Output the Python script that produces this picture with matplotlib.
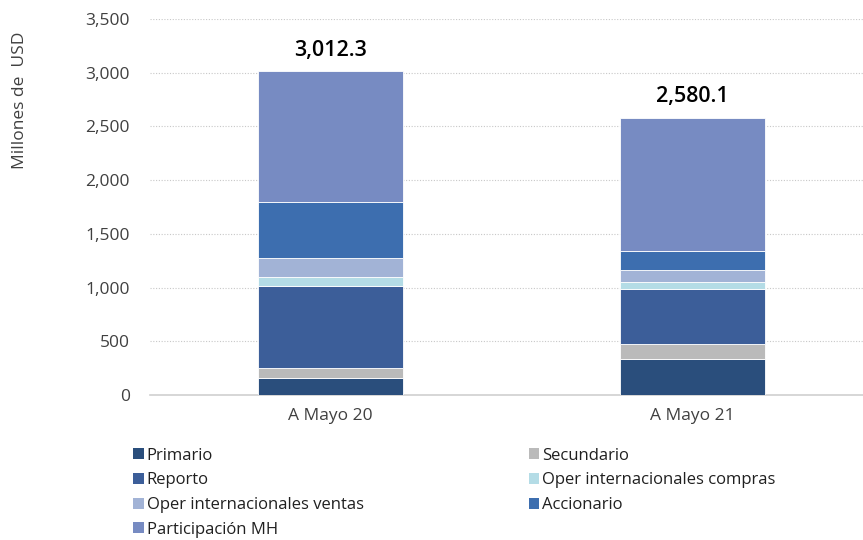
import numpy as np
import matplotlib
matplotlib.use("Agg")
import matplotlib.pyplot as plt
from matplotlib.patches import Patch

plt.rcParams['font.family'] = ['Open Sans', 'DejaVu Sans']

# Datos (millones de USD)
periodos = ['A Mayo 20', 'A Mayo 21']
series = ['Primario', 'Secundario', 'Reporto', 'Oper internacionales compras',
          'Oper internacionales ventas', 'Accionario', 'Participación MH']
primario = [158.0, 338.0]
secundario = [93.0, 140.0]
reporto = [763.0, 506.0]
oper_compras = [83.0, 69.0]
oper_ventas = [174.0, 106.0]
accionario = [530.0, 185.0]
participacion = [1211.3, 1236.1]
totales = [3012.3, 2580.1]

colores = ['#2a4e7c', '#bababa', '#3c5e99', '#b4dce6', '#a2b3d6', '#3d6eaf', '#778bc2']
valores = [primario, secundario, reporto, oper_compras, oper_ventas, accionario, participacion]

fig = plt.figure(figsize=(8.63, 5.4), dpi=100)
ax = fig.add_axes([149.5 / 863, 1 - 395 / 540, 724 / 863, 376 / 540])

x = np.arange(len(periodos))
base = np.zeros(len(periodos))
for nombre, vals, c in zip(series, valores, colores):
    ax.bar(x, vals, width=0.4, bottom=base, color=c, edgecolor='white',
           linewidth=0.6, label=nombre, zorder=3)
    base += np.array(vals)

for xi, t in zip(x, totales):
    ax.text(xi, t + 100, f'{t:,.1f}', ha='center', va='bottom', fontsize=15.5,
            fontweight='semibold', color='black')

ax.set_xlim(-0.5, 1.5)
ax.set_ylim(0, 3500)
ax.set_yticks(np.arange(0, 3501, 500))
ax.yaxis.set_major_formatter(matplotlib.ticker.FuncFormatter(lambda v, p: f'{v:,.0f}'))
ax.set_xticks(x)
ax.set_xticklabels(periodos)
ax.grid(axis='y', linestyle=(0, (1, 1.5)), color='#c8c8c8', linewidth=0.8, zorder=0)
for s in ['top', 'right', 'left']:
    ax.spines[s].set_visible(False)
ax.spines['bottom'].set_color('#d0d0d0')
ax.spines['bottom'].set_linewidth(1.2)
ax.tick_params(axis='y', length=0, labelsize=12.5, labelcolor='#404040', pad=14)
ax.tick_params(axis='x', length=0, labelsize=12.5, labelcolor='#404040', pad=9)

fig.text(20 / 863, 1 - 100 / 540, 'Millones de  USD', rotation=90, ha='center',
         va='center', fontsize=12.5, color='#404040')

# leyenda en dos columnas, orden por filas
orden = [0, 2, 4, 6, 1, 3, 5]
handles = [Patch(facecolor=colores[i], label=series[i]) for i in orden]
fig.legend(handles=handles, loc='upper left', bbox_to_anchor=(126 / 863, 1 - 441 / 540),
           ncol=2, frameon=False, fontsize=12, handlelength=0.65, handleheight=0.65,
           handletextpad=0.18, columnspacing=9.9, labelspacing=0.52, borderaxespad=0,
           labelcolor='#202020')

fig.savefig('out.png', dpi=100)
